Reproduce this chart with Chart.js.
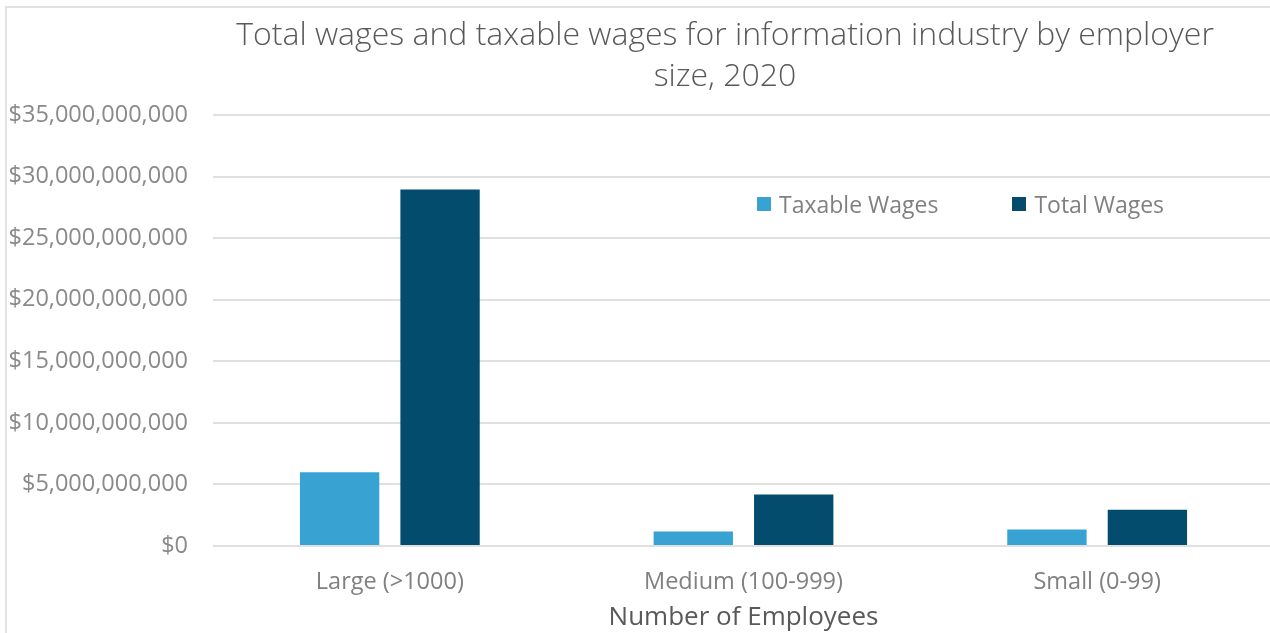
<!DOCTYPE html>
<html>
<head>
<meta charset="utf-8">
<script src="https://cdn.jsdelivr.net/npm/chart.js@4.4.1/dist/chart.umd.min.js"></script>
<style>
  html, body { margin: 0; padding: 0; background: #fff; }
  #wrap { position: relative; width: 1270px; height: 633px; overflow: hidden; }
  #frame {
    position: absolute; left: 5px; top: 6px; right: -10px; bottom: 0;
    border-left: 2px solid #e2e2e2; border-top: 2px solid #e2e2e2;
  }
  #wages-chart { position: absolute; left: 0; top: 0; }
  #legend {
    position: absolute; left: 757px; top: 188px;
    font-family: "Open Sans", sans-serif; font-size: 23px; color: #808080;
    display: flex;
  }
  .legend-item { display: flex; align-items: center; margin-right: 74px; }
  .legend-box { width: 14px; height: 14px; margin-right: 8px; }
</style>
</head>
<body>
<div id="wrap">
  <div id="frame"></div>
  <!-- plot runs slightly past the right edge, as the gridlines do -->
  <canvas id="wages-chart" width="1274" height="633"></canvas>
  <div id="legend"></div>
</div>
<script>
const sizes = ["Large (>1000)", "Medium (100-999)", "Small (0-99)"];
const taxableWages = [5990000000, 1180000000, 1340000000];
const totalWages = [28950000000, 4190000000, 2950000000];
const seriesNames = ["Taxable Wages", "Total Wages"];
const seriesColors = ["#38a3d2", "#034c6e"];
const titleLines = ["Total wages and taxable wages for information industry by employer", "size, 2020"];

// Two-line title drawn above the plot, centred a little left of the canvas middle
const titlePlugin = {
  id: "wrappedTitle",
  afterDraw(chart) {
    const ctx = chart.ctx;
    ctx.save();
    ctx.font = "300 32px 'Open Sans', sans-serif";
    ctx.fillStyle = "#595959";
    ctx.textAlign = "center";
    ctx.textBaseline = "middle";
    titleLines.forEach((line, i) => ctx.fillText(line, 725, 36 + i * 41));
    ctx.restore();
  }
};

const data = {
  labels: sizes,
  datasets: [
    { label: seriesNames[0], data: taxableWages, backgroundColor: seriesColors[0] },
    { label: seriesNames[1], data: totalWages, backgroundColor: seriesColors[1] }
  ]
};

const config = {
  type: "bar",
  data: data,
  plugins: [titlePlugin],
  options: {
    responsive: false,
    animation: false,
    layout: {
      padding: { top: 115, left: 10, right: 0, bottom: 0 }
    },
    datasets: {
      bar: { categoryPercentage: 0.568, barPercentage: 0.79 }
    },
    plugins: {
      legend: { display: false },
      tooltip: { enabled: false }
    },
    scales: {
      x: {
        grid: { display: false, drawTicks: false },
        border: { display: false },
        afterFit: (scale) => { scale.height = 87; },
        ticks: {
          padding: 22,
          color: "#808080",
          font: { family: "'Open Sans', sans-serif", size: 23.5 }
        },
        title: {
          display: true,
          text: "Number of Employees",
          color: "#595959",
          padding: { top: 7, bottom: 0 },
          font: { family: "'Open Sans', sans-serif", size: 26 }
        }
      },
      y: {
        min: 0,
        max: 35000000000,
        border: { display: false },
        grid: { color: "#e0e0e0", lineWidth: 2, drawTicks: false },
        // keep the label column a fixed width so the plot starts where it should
        afterFit: (scale) => { scale.width = 203; },
        ticks: {
          stepSize: 5000000000,
          padding: 25,
          color: "#8a8a8a",
          font: { family: "'Open Sans', sans-serif", size: 23.5 },
          callback: (value) => "$" + value.toLocaleString("en-US")
        }
      }
    }
  }
};

new Chart(document.getElementById("wages-chart"), config);

// Legend sits inside the plot area, upper right
const legend = document.getElementById("legend");
seriesNames.forEach((name, i) => {
  legend.insertAdjacentHTML("beforeend",
    `<div class="legend-item"><div class="legend-box" style="background:${seriesColors[i]}"></div>${name}</div>`);
});
</script>
</body>
</html>
